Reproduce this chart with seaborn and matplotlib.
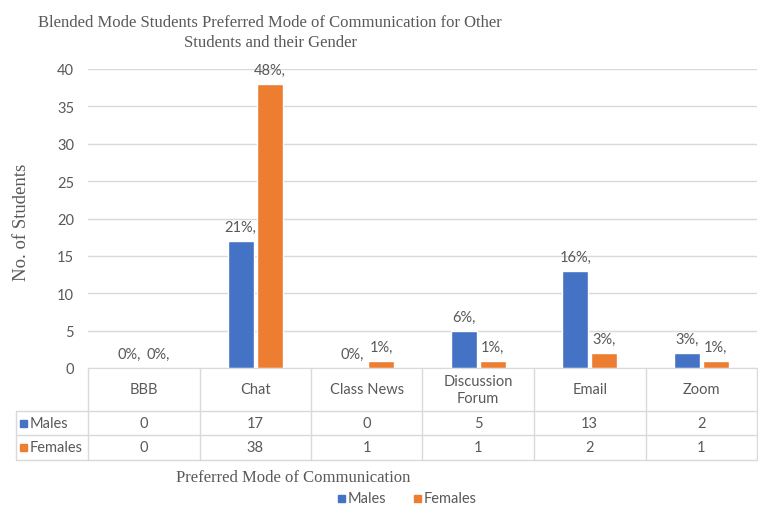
import numpy as np
import pandas as pd
import seaborn as sns
import matplotlib.pyplot as plt
from matplotlib.patches import Rectangle

modes = ["BBB", "Chat", "Class News", "Discussion\nForum", "Email", "Zoom"]
males = [0, 17, 0, 5, 13, 2]
females = [0, 38, 1, 1, 2, 1]
males_pct = ["0%,", "21%,", "0%,", "6%,", "16%,", "3%,"]
females_pct = ["0%,", "48%,", "1%,", "1%,", "3%,", "1%,"]

BLUE = "#4472C4"
ORANGE = "#ED7D31"
GRAY = "#595959"
LINE = "#D9D9D9"

df = pd.DataFrame({
    "Mode": modes * 2,
    "Students": males + females,
    "Gender": ["Males"] * len(modes) + ["Females"] * len(modes),
})

sns.set_style("white")
plt.rcParams["font.family"] = ["Lato", "DejaVu Sans"]

W, H = 758, 506
fig = plt.figure(figsize=(W / 100, H / 100), dpi=100)
ax_l, ax_r, ax_t, ax_b = 88, 757, 70, 369
ax = fig.add_axes([ax_l / W, 1 - ax_b / H, (ax_r - ax_l) / W, (ax_b - ax_t) / H])

sns.barplot(data=df, x="Mode", y="Students", hue="Gender",
            palette={"Males": BLUE, "Females": ORANGE}, saturation=1,
            width=0.52, gap=0.12, legend=False, ax=ax)

for cont, labs in zip(ax.containers, [males_pct, females_pct]):
    ax.bar_label(cont, labels=labs, padding=5, fontsize=10.5, color=GRAY)

ax.set_ylim(0, 40)
ax.set_xlim(-0.5, len(modes) - 0.5)
ax.set_yticks(range(0, 41, 5))
ax.tick_params(axis="y", length=0, labelsize=10.5, labelcolor=GRAY, pad=10)
ax.set_xticks([])
ax.set_xlabel("")
ax.set_ylabel("")
ax.grid(axis="y", color=LINE, linewidth=1)
ax.set_axisbelow(True)
for s in ["top", "right", "left"]:
    ax.spines[s].set_visible(False)
ax.spines["bottom"].set_color(LINE)

# data table below the axes (figure pixel coordinates)
def fx(px):
    return px / W

def fy(py):
    return 1 - py / H

x0 = 16
row_y = [369, 412, 436, 461]
col_w = (ax_r - ax_l) / len(modes)
bounds = [ax_l + i * col_w for i in range(len(modes) + 1)]

def hline(y, xa, xb):
    fig.add_artist(plt.Line2D([fx(xa), fx(xb)], [fy(y), fy(y)], color=LINE, lw=1))

def vline(x, ya, yb):
    fig.add_artist(plt.Line2D([fx(x), fx(x)], [fy(ya), fy(yb)], color=LINE, lw=1))

for y in row_y[1:]:
    hline(y, x0, ax_r)
for b in bounds:
    vline(b, row_y[0], row_y[-1])
vline(x0, row_y[1], row_y[-1])

for i, m in enumerate(modes):
    cx = (bounds[i] + bounds[i + 1]) / 2
    fig.text(fx(cx), fy((row_y[0] + row_y[1]) / 2), m, ha="center", va="center",
             fontsize=10.5, color=GRAY, linespacing=1.35)
    fig.text(fx(cx), fy((row_y[1] + row_y[2]) / 2), str(males[i]), ha="center", va="center",
             fontsize=10.5, color=GRAY)
    fig.text(fx(cx), fy((row_y[2] + row_y[3]) / 2), str(females[i]), ha="center", va="center",
             fontsize=10.5, color=GRAY)

for (ya, yb), name, col in [((row_y[1], row_y[2]), "Males", BLUE), ((row_y[2], row_y[3]), "Females", ORANGE)]:
    cy = (ya + yb) / 2
    fig.add_artist(Rectangle((fx(20), fy(cy + 3.5)), 7 / W, 7 / H, color=col, transform=fig.transFigure))
    fig.text(fx(30), fy(cy), name, ha="left", va="center", fontsize=10.5, color=GRAY)

# titles
serif = ["Liberation Serif", "DejaVu Serif"]
fig.text(fx(270), fy(33), "Blended Mode Students Preferred Mode of Communication for Other\nStudents and their Gender",
         ha="center", va="center", fontsize=12, color=GRAY, family=serif, linespacing=1.35)
fig.text(fx(22), fy(222), "No. of Students", rotation=90, ha="center", va="center",
         fontsize=13.5, color=GRAY, family=serif)
fig.text(fx(293), fy(478), "Preferred Mode of Communication", ha="center", va="center",
         fontsize=12, color=GRAY, family=serif)

# legend
for x, name, col in [(338, "Males", BLUE), (414, "Females", ORANGE)]:
    fig.add_artist(Rectangle((fx(x), fy(503)), 7 / W, 7 / H, color=col, transform=fig.transFigure))
    fig.text(fx(x + 10), fy(499), name, ha="left", va="center", fontsize=10.5, color=GRAY)

fig.savefig("out.png", dpi=100)
